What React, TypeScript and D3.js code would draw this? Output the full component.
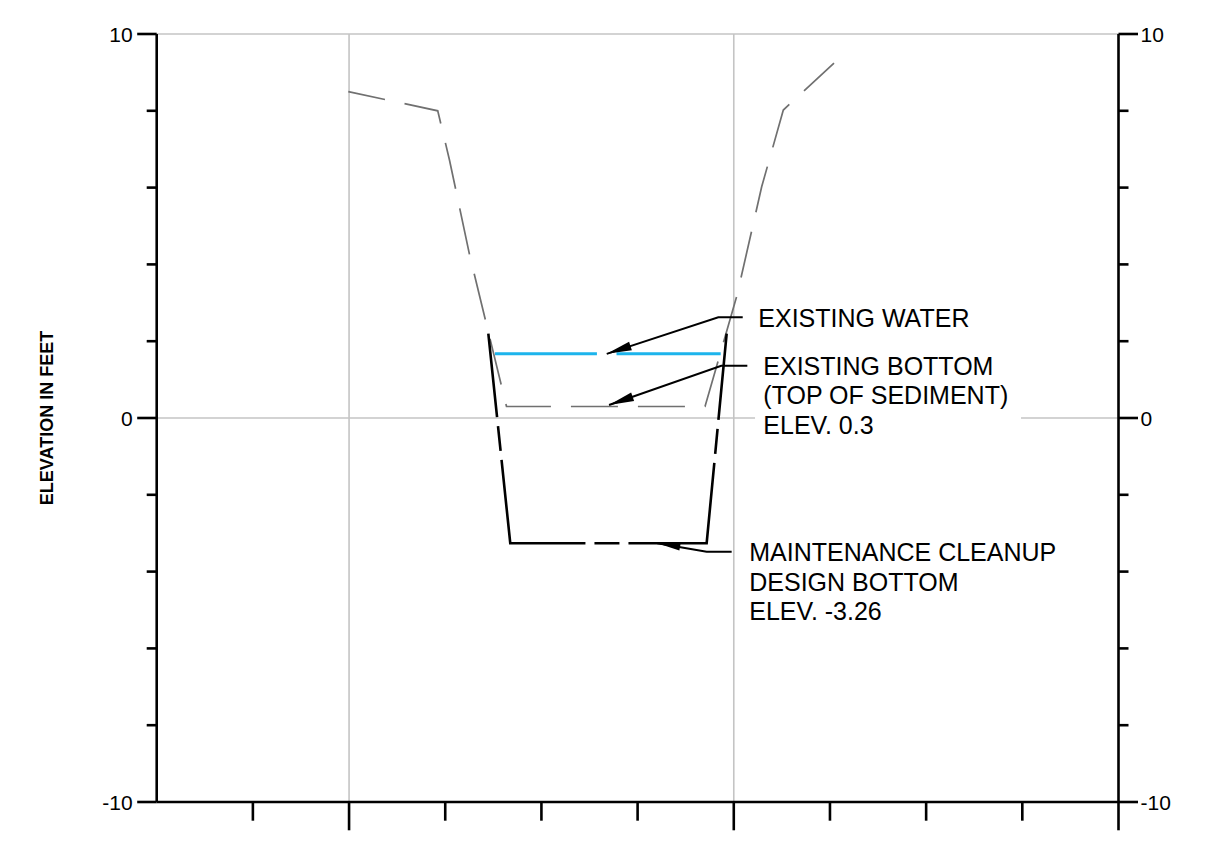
import React from "react";
import * as d3 from "d3";

const W = 1211;
const H = 853;

// axis setup
const xDomain = [0, 100];
const yDomain = [-10, 10];
const xTicks = [10, 20, 30, 40, 50, 60, 70, 80, 90, 100];
const xMajorTicks = [20, 60, 100];
const xGridValues = [20, 60];
const yTicks = [-10, -8, -6, -4, -2, 0, 2, 4, 6, 8, 10];
const yLabeledTicks = [-10, 0, 10];
const yGridValues = [10, 0];

// existing ground profile (gray dashed)
const groundX = [19.92, 29.22, 30.44, 32.52, 36.37, 57.01, 60.34, 62.9, 65.15, 70.42];
const groundY = [8.5, 8.0, 6.72, 4.26, 0.3, 0.3, 3.2, 6.02, 8.02, 9.24];

// maintenance cleanup design section (black)
const designX = [34.48, 36.76, 57.18, 59.26];
const designY = [2.2, -3.26, -3.26, 2.2];

// existing water (blue)
const waterX = [35.17, 58.64];
const waterElev = 1.67;

// annotations
const annoLines = [
  ["EXISTING WATER"],
  ["EXISTING BOTTOM", "(TOP OF SEDIMENT)", "ELEV. 0.3"],
  ["MAINTENANCE CLEANUP", "DESIGN BOTTOM", "ELEV. -3.26"],
];
const annoTipX = [46.79, 47.03, 52.05];
const annoTipY = [1.67, 0.34, -3.26];
const annoElbowX = [58.39, 58.7, 57.18];
const annoEndX = [60.93, 61.41, 59.78];
const annoLeaderY = [2.622, 1.362, -3.482];
const annoMask = [false, true, false];

const FONT = "'Liberation Sans', Arial, Helvetica, sans-serif";

export default function App() {
  const left = 156.7;
  const right = 1118.5;
  const top = 34;
  const bottom = 802;

  const x = d3.scaleLinear().domain(xDomain).range([left, right]);
  const y = d3.scaleLinear().domain(yDomain).range([bottom, top]);

  const line = d3
    .line<[number, number]>()
    .x((d) => x(d[0]))
    .y((d) => y(d[1]));

  const groundPts = groundX.map((v, i) => [v, groundY[i]] as [number, number]);
  const designPts = designX.map((v, i) => [v, designY[i]] as [number, number]);

  // water line with gap at arrow tip
  const wx0 = x(waterX[0]);
  const wx1 = x(waterX[1]);
  const wTip = x(annoTipX[0]);
  const gapHalf = 9.8;
  const waterDash = `${wTip - gapHalf - wx0},${gapHalf * 2},${wx1 - wTip + gapHalf + 5}`;

  const arrowHead = (tx: number, ty: number, fx: number, fy: number, L: number, Wd: number) => {
    const dx = fx - tx;
    const dy = fy - ty;
    const len = Math.hypot(dx, dy);
    const ux = dx / len;
    const uy = dy / len;
    const bx = tx + ux * L;
    const by = ty + uy * L;
    const px = -uy * (Wd / 2);
    const py = ux * (Wd / 2);
    return `M${tx},${ty}L${bx + px},${by + py}L${bx - px},${by - py}Z`;
  };

  const lineH = 29.5;

  return (
    <svg
      width={W}
      height={H}
      style={{ position: "absolute", left: 0, top: 0, background: "#fff" }}
      fontFamily={FONT}
    >
      <rect x={0} y={0} width={W} height={H} fill="#fff" />
      {/* grid */}
      {yGridValues.map((v) => (
        <line key={"gy" + v} x1={left} x2={right} y1={y(v)} y2={y(v)} stroke="#c4c4c4" strokeWidth={1.6} />
      ))}
      {xGridValues.map((v) => (
        <line key={"gx" + v} x1={x(v)} x2={x(v)} y1={top} y2={bottom} stroke="#c4c4c4" strokeWidth={1.6} />
      ))}

      {/* mask behind annotation text */}
      {annoLines.map((lines, i) =>
        annoMask[i] ? (
          <rect
            key={"m" + i}
            x={x(annoEndX[i]) + 16 - 8.3}
            y={y(annoLeaderY[i]) + 9.3 - 24}
            width={266}
            height={lineH * lines.length + 8}
            fill="#fff"
          />
        ) : null
      )}

      {/* existing ground */}
      <path
        d={line(groundPts) || ""}
        fill="none"
        stroke="#707070"
        strokeWidth={1.7}
        strokeDasharray="47,20"
        strokeDashoffset={9.5}
      />

      {/* existing water */}
      <line
        x1={wx0}
        x2={wx1}
        y1={y(waterElev)}
        y2={y(waterElev)}
        stroke="#1cb4ec"
        strokeWidth={3}
        strokeDasharray={waterDash}
      />

      {/* design section */}
      <path
        d={line(designPts) || ""}
        fill="none"
        stroke="#000"
        strokeWidth={2.6}
        strokeDasharray="159,9,25,9"
        strokeDashoffset={75}
        strokeLinejoin="miter"
      />

      {/* leaders and labels */}
      {annoLines.map((lines, i) => {
        const tx = x(annoTipX[i]);
        const ty = y(annoTipY[i]);
        const ex = x(annoElbowX[i]);
        const ey = y(annoLeaderY[i]);
        const endX = x(annoEndX[i]);
        const textX = endX + (i === 0 ? 15.6 : i === 1 ? 16 : 17.6);
        const base = ey + (i === 0 ? 10 : 9.3);
        return (
          <g key={"a" + i}>
            <path d={`M${tx},${ty}L${ex},${ey}L${endX},${ey}`} fill="none" stroke="#000" strokeWidth={2} />
            <path d={arrowHead(tx, ty, ex, ey, i === 2 ? 23 : 25, i === 2 ? 7 : 9)} fill="#000" />
            {lines.map((t, j) => (
              <text key={j} x={textX} y={base + j * lineH} fontSize={25} fill="#000">
                {t}
              </text>
            ))}
          </g>
        );
      })}

      {/* axes */}
      <line x1={left} x2={left} y1={top} y2={bottom} stroke="#000" strokeWidth={2.6} />
      <line x1={right} x2={right} y1={top} y2={bottom} stroke="#000" strokeWidth={2.6} />
      <line x1={left} x2={right} y1={bottom} y2={bottom} stroke="#000" strokeWidth={2.6} />

      {yTicks.map((v) => {
        const major = yLabeledTicks.includes(v);
        const len = major ? 19.5 : 10;
        return (
          <g key={"yt" + v}>
            <line x1={left - len} x2={left} y1={y(v)} y2={y(v)} stroke="#000" strokeWidth={2.6} />
            <line x1={right} x2={right + len} y1={y(v)} y2={y(v)} stroke="#000" strokeWidth={2.6} />
          </g>
        );
      })}
      {yLabeledTicks.map((v) => (
        <g key={"yl" + v}>
          <text x={left - 24} y={y(v) + 7.5} fontSize={21} textAnchor="end" fill="#000">
            {v}
          </text>
          <text x={right + 22} y={y(v) + 7.5} fontSize={21} textAnchor="start" fill="#000">
            {v}
          </text>
        </g>
      ))}

      {xTicks.map((v) => {
        const len = xMajorTicks.includes(v) ? 28.3 : 18.7;
        return <line key={"xt" + v} x1={x(v)} x2={x(v)} y1={bottom} y2={bottom + len} stroke="#000" strokeWidth={2.6} />;
      })}

      {/* y axis title */}
      <text
        transform={`translate(${48},${y(0)}) rotate(-90)`}
        textAnchor="middle"
        dominantBaseline="middle"
        fontSize={18}
        fontWeight="bold"
        fill="#000"
      >
        ELEVATION IN FEET
      </text>
    </svg>
  );
}
